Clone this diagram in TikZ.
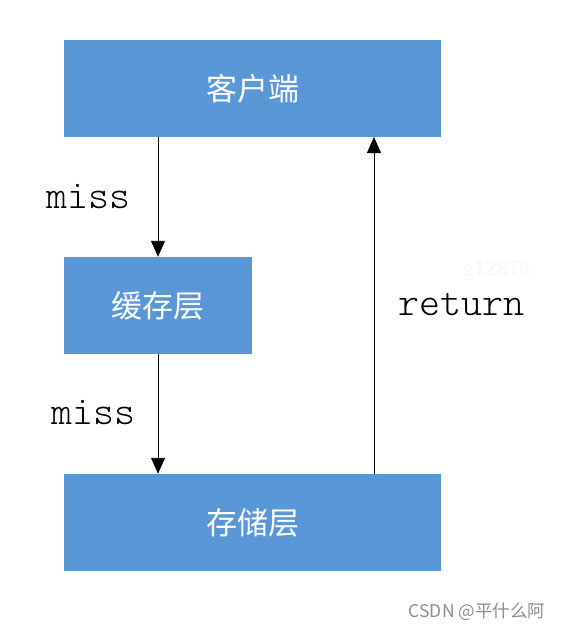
\documentclass[tikz,border=0pt]{standalone}
\usepackage{fontspec}
\setmainfont{Noto Sans CJK SC}
\newfontfamily\thinmono{Latin Modern Mono Light}
\usetikzlibrary{arrows.meta}
\definecolor{boxblue}{RGB}{89,151,215}

\begin{document}
\begin{tikzpicture}[x=1pt,y=-1pt,
    layer/.style={fill=boxblue,text=white,inner sep=0pt,font=\fontsize{31}{32}\selectfont},
    flow/.style={-{Triangle[width=14pt,length=16pt]},line width=0.9pt},
    lbl/.style={font=\thinmono\fontsize{40}{40}\selectfont}]
    \useasboundingbox (0,0) rectangle (561,632);
    \node[layer,minimum width=377pt,minimum height=97pt] (client) at (252.5,88.5) {客户端};
    \node[layer,minimum width=188pt,minimum height=97pt] (cache) at (158,305.5) {缓存层};
    \node[layer,minimum width=377pt,minimum height=97pt] (store) at (252.5,522.5) {存储层};
    \coordinate (rbot) at (374,474);
    \coordinate (rtop) at (374,137);
    \draw[flow] (client.south -| cache) -- (cache.north);
    \draw[flow] (cache.south) -- (store.north -| cache);
    \draw[flow] (rbot) -- (rtop);
    \node[lbl] (m1) at (88,197) {miss};
    \node[lbl] (m2) at (93,413) {miss};
    \node[lbl] (ret) at (461,305) {return};
    \node[text=black!3,font=\fontsize{20}{20}\selectfont] (wm) at (497,271) {g12878};
    \node[text=black!45,font=\fontsize{17.5}{18}\selectfont] (csdn) at (477,612) {CSDN @平什么阿};
\end{tikzpicture}
\end{document}
